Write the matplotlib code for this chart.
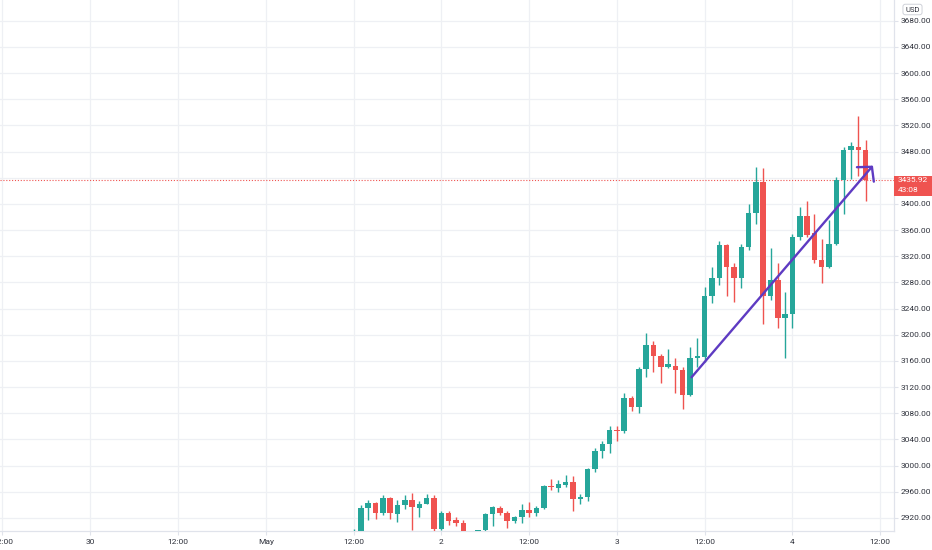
import matplotlib
matplotlib.use("Agg")
import matplotlib.pyplot as plt
from matplotlib.patches import Rectangle
from matplotlib.transforms import blended_transform_factory
import numpy as np

plt.rcParams['font.family'] = ['Roboto', 'DejaVu Sans']

# hours since May 1 00:00 (hourly candles)
hours = list(range(12, 83))
opens = [2880, 2897, 2935, 2943, 2927, 2950, 2926, 2940, 2947, 2936, 2942, 2951, 2903, 2928, 2917, 2913,
         2899, 2885, 2901, 2926, 2936, 2928, 2916, 2921, 2932, 2928, 2936, 2969, 2966, 2971, 2975, 2949,
         2952, 2995, 3022, 3033, 3055, 3053, 3103, 3089, 3147, 3185, 3167, 3150, 3152, 3146, 3108, 3164,
         3166, 3259, 3287, 3337, 3304, 3286, 3334, 3386, 3433, 3260, 3283, 3226, 3231, 3350, 3382, 3355,
         3315, 3304, 3338, 3437, 3482, 3487, 3482]
highs = [2903, 2940, 2947, 2945, 2955, 2952, 2948, 2955, 2958, 2946, 2956, 2955, 2930, 2930, 2922, 2917,
         2899.5, 2902, 2927, 2939, 2938, 2930, 2923, 2942, 2944, 2938, 2970, 2980, 2978, 2986, 2984, 2956,
         2996, 3027, 3038, 3060, 3061, 3111, 3107, 3150, 3203, 3191, 3171, 3179, 3164, 3151, 3181, 3195,
         3273, 3303, 3343, 3339, 3309, 3339, 3400, 3457, 3455, 3332, 3310, 3265, 3354, 3395, 3404, 3384,
         3346, 3375, 3441, 3487, 3495, 3534, 3498]
lows = [2875, 2890, 2917, 2918, 2925, 2919, 2914, 2933, 2901, 2922, 2941, 2900, 2901, 2909, 2908, 2890,
        2880, 2878, 2895, 2907, 2925, 2904, 2913, 2912, 2921, 2923, 2934, 2962, 2960, 2968, 2930, 2942,
        2946, 2990, 3012, 3019, 3038, 3050, 3083, 3081, 3136, 3143, 3127, 3149, 3111, 3087, 3106, 3151,
        3158, 3249, 3276, 3260, 3250, 3272, 3330, 3370, 3216, 3253, 3210, 3165, 3210, 3345, 3349, 3310,
        3279, 3302, 3337, 3385, 3438, 3443, 3405]
closes = [2897, 2935, 2943, 2928, 2950, 2927, 2940, 2947, 2937, 2942, 2951, 2903, 2928, 2916, 2912, 2899,
          2890, 2901.5, 2926, 2937, 2927, 2916, 2921, 2932, 2928, 2936, 2969, 2967, 2972, 2975, 2949, 2952,
          2995, 3022, 3033, 3055, 3053, 3103, 3089, 3147, 3185, 3167, 3150, 3155, 3146, 3108, 3164, 3167,
          3259, 3287, 3337, 3304, 3286, 3334, 3386, 3433, 3260, 3284, 3226, 3231, 3350, 3382, 3353, 3314,
          3304, 3338, 3437, 3482, 3488, 3482, 3435.92]

time_ticks = [-36, -24, -12, 0, 12, 24, 36, 48, 60, 72, 84]
time_labels = ["12:00", "30", "12:00", "May", "12:00", "2", "12:00", "3", "12:00", "4", "12:00"]
price_ticks = list(range(2920, 3720, 40))

# trend arrow (hours, price)
arrow_start = (58.2, 3135)
arrow_end = (83.0, 3458.5)
countdown = "43:08"
currency = "USD"

GREEN = '#26a69a'
RED = '#ef5350'
PURPLE = '#5e3bc2'
TXT = '#2e313b'
GRID = '#eef0f4'
BORDER = '#e0e3eb'

W, H = 932, 550
fig = plt.figure(figsize=(W / 100, H / 100), dpi=100)
ax_pos = [0, 19 / H, 894 / W, 531 / H]
ax = fig.add_axes(ax_pos)
fig.patch.set_facecolor('white')

xmin, xmax = -36.34, 85.88
ymin, ymax = 2900.1, 3711.6
ax.set_xlim(xmin, xmax)
ax.set_ylim(ymin, ymax)

ax_w_px = W * ax_pos[2]
ax_h_px = H * ax_pos[3]
ppu = ax_h_px / (ymax - ymin)

t = np.array(hours, dtype=float)
o = np.array(opens, dtype=float)
h = np.array(highs, dtype=float)
l = np.array(lows, dtype=float)
c = np.array(closes, dtype=float)
cols = [GREEN if cc >= oo else RED for oo, cc in zip(o, c)]

ax.vlines(t, l, h, colors=cols, linewidth=1.0, zorder=3)
body_h = np.maximum(np.abs(c - o), 1.2 / ppu)
ax.bar(t, body_h, bottom=np.minimum(o, c), width=0.75, color=cols, linewidth=0, zorder=4)

# current price dotted line
ax.axhline(c[-1], color=RED, linewidth=0.8, linestyle=(0, (1, 1.6)), zorder=2)

# trend arrow
ax.annotate("", xy=arrow_end, xytext=arrow_start,
            arrowprops=dict(arrowstyle='->,head_length=0.72,head_width=0.8',
                            color=PURPLE, lw=1.7, shrinkA=0, shrinkB=0, mutation_scale=10),
            zorder=6)

# axes styling
ax.set_xticks(time_ticks)
ax.set_xticklabels(time_labels)
ax.set_yticks(price_ticks)
# the scale hides the tick label that sits under the last-price badge
ax.set_yticklabels(["" if abs(p - c[-1]) * ppu < 14 else f"{p:.2f}" for p in price_ticks])
ax.yaxis.tick_right()
ax.tick_params(axis='both', colors=BORDER, labelcolor=TXT, labelsize=6, length=3, width=0.8)
ax.tick_params(axis='x', pad=3)
ax.tick_params(axis='y', pad=2)
ax.grid(True, color=GRID, linewidth=0.9)
ax.set_axisbelow(True)
for s in ['top', 'left']:
    ax.spines[s].set_visible(False)
for s in ['right', 'bottom']:
    ax.spines[s].set_color(BORDER)
    ax.spines[s].set_linewidth(0.9)

# price label box on the scale
trans = blended_transform_factory(ax.transAxes, ax.transData)
top = c[-1] + 4.5 / ppu
bot = c[-1] - 15.5 / ppu
ax.add_patch(Rectangle((1.0, bot), 40 / ax_w_px, top - bot, transform=trans,
                       facecolor=RED, edgecolor='none', clip_on=False, zorder=10))
ax.text(1.0 + 3.5 / ax_w_px, c[-1], f"{c[-1]:.2f}", transform=trans, color='white',
        fontsize=6, ha='left', va='center', clip_on=False, zorder=11)
ax.text(1.0 + 3.5 / ax_w_px, c[-1] - 10 / ppu, countdown, transform=trans, color='white',
        fontsize=6, ha='left', va='center', clip_on=False, zorder=11)

# currency badge
fig.text(912.5 / W, 1 - 9.5 / H, currency, fontsize=5.5, color=TXT, ha='center', va='center',
         bbox=dict(boxstyle='round,pad=0.3,rounding_size=0.3', fc='white', ec='#c8cbd3', lw=0.6))

fig.savefig("out.png", dpi=100, facecolor='white')
